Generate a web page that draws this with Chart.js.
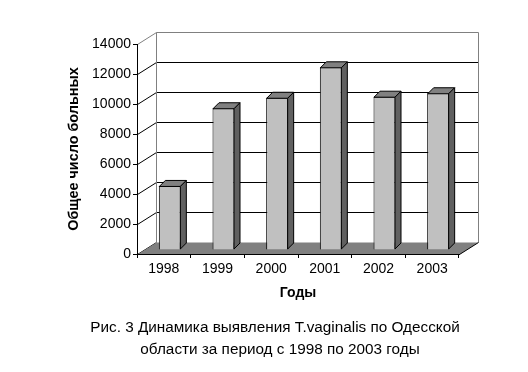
<!DOCTYPE html>
<html>
<head>
<meta charset="utf-8">
<script src="https://cdn.jsdelivr.net/npm/chart.js@4.4.0/dist/chart.umd.min.js"></script>
<style>
    html, body { margin: 0; padding: 0; background: #fff; overflow: hidden; }
    #wrap { position: relative; width: 528px; height: 372px; }
    .caption {
        position: absolute;
        white-space: nowrap;
        font: 15.3px Arial, "Liberation Sans", sans-serif;
        line-height: 22px;
        transform: translateX(-50%);
        color: #000;
    }
</style>
</head>
<body>
<div id="wrap">
    <canvas id="chart" width="528" height="372"></canvas>
    <div class="caption" style="left:275px; top:316px">Рис. 3 Динамика выявления T.vaginalis по Одесской</div>
    <div class="caption" style="left:280px; top:338px">области за период с 1998 по 2003 годы</div>
</div>
<script>
// ===== DATA =====
const years = ['1998', '1999', '2000', '2001', '2002', '2003'];
const patients = [4270, 9450, 10150, 12180, 10220, 10450];
const yMin = 0;
const yMax = 14000;
const yStep = 2000;

// ===== 3D LOOK =====
const DEPTH_X = 19, DEPTH_Y = -12;      // walls / floor depth
const BAR_OFF_X = 6, BAR_OFF_Y = -4;    // bar front face pushed into depth
const BAR_DX = 6, BAR_DY = -6;          // bar own depth

const FONT = 'Arial, "Liberation Sans", sans-serif';
Chart.defaults.font.family = FONT;
Chart.defaults.color = '#000';

function line(ctx, x1, y1, x2, y2, color) {
    ctx.beginPath();
    ctx.strokeStyle = color;
    ctx.moveTo(x1, y1);
    ctx.lineTo(x2, y2);
    ctx.stroke();
}

// back wall, side wall grid and floor
const walls3d = {
    id: 'walls3d',
    beforeDraw(chart) {
        const { ctx, chartArea: a, scales: { y } } = chart;
        const L = Math.round(a.left) + 0.5;
        const R = Math.round(a.right) + 0.5;
        const bottom = Math.round(y.getPixelForValue(yMin)) + 0.5;
        const top = Math.round(y.getPixelForValue(yMax)) + 0.5;
        ctx.save();
        ctx.lineWidth = 1;

        // grid lines: side wall diagonals + back wall horizontals
        y.ticks.forEach(t => {
            const py = Math.round(y.getPixelForValue(t.value)) + 0.5;
            if (t.value === yMax) return;
            line(ctx, L, py, L + DEPTH_X, py + DEPTH_Y, '#000');
            if (t.value !== yMin) line(ctx, L + DEPTH_X, py + DEPTH_Y, R + DEPTH_X, py + DEPTH_Y, '#000');
        });

        // back wall border
        ctx.beginPath();
        ctx.strokeStyle = '#808080';
        ctx.moveTo(L + DEPTH_X, bottom + DEPTH_Y);
        ctx.lineTo(L + DEPTH_X, top + DEPTH_Y);
        ctx.lineTo(R + DEPTH_X, top + DEPTH_Y);
        ctx.lineTo(R + DEPTH_X, bottom + DEPTH_Y);
        ctx.stroke();
        line(ctx, L, top, L + DEPTH_X, top + DEPTH_Y, '#808080');

        // floor
        ctx.beginPath();
        ctx.fillStyle = '#808080';
        ctx.moveTo(L, bottom);
        ctx.lineTo(R, bottom);
        ctx.lineTo(R + DEPTH_X, bottom + DEPTH_Y);
        ctx.lineTo(L + DEPTH_X, bottom + DEPTH_Y);
        ctx.closePath();
        ctx.fill();
        line(ctx, R, bottom, R + DEPTH_X, bottom + DEPTH_Y, '#000');
        ctx.restore();
    },
    beforeDatasetsDraw(chart) {
        chart.ctx.save();
        chart.ctx.translate(BAR_OFF_X, BAR_OFF_Y);
    },
    afterDatasetsDraw(chart) {
        const ctx = chart.ctx;
        ctx.restore();
        ctx.save();
        ctx.lineWidth = 1;
        ctx.strokeStyle = '#000';
        chart.getDatasetMeta(0).data.forEach(bar => {
            const { x, y, base, width } = bar.getProps(['x', 'y', 'base', 'width'], true);
            const l = x - width / 2 + BAR_OFF_X + 0.5;
            const r = x + width / 2 + BAR_OFF_X - 0.5;
            const t = y + BAR_OFF_Y + 0.5;
            const b = base + BAR_OFF_Y - 0.5;
            // top face
            ctx.beginPath();
            ctx.moveTo(l, t);
            ctx.lineTo(l + BAR_DX, t + BAR_DY);
            ctx.lineTo(r + BAR_DX, t + BAR_DY);
            ctx.lineTo(r, t);
            ctx.closePath();
            ctx.fillStyle = '#808080';
            ctx.fill();
            ctx.stroke();
            // side face
            ctx.beginPath();
            ctx.moveTo(r, t);
            ctx.lineTo(r + BAR_DX, t + BAR_DY);
            ctx.lineTo(r + BAR_DX, b + BAR_DY);
            ctx.lineTo(r, b);
            ctx.closePath();
            ctx.fillStyle = '#606060';
            ctx.fill();
            ctx.stroke();
        });
        ctx.restore();
    }
};

new Chart(document.getElementById('chart'), {
    type: 'bar',
    data: {
        labels: years,
        datasets: [{
            data: patients,
            backgroundColor: '#c0c0c0',
            borderColor: '#000',
            borderWidth: 1,
            barPercentage: 0.41,
            categoryPercentage: 1
        }]
    },
    options: {
        responsive: false,
        animation: false,
        devicePixelRatio: 1,
        layout: { padding: { top: 44, right: 69, bottom: 70, left: 0 } },
        plugins: {
            legend: { display: false },
            tooltip: { enabled: false }
        },
        scales: {
            x: {
                afterFit: s => { s.height = 48; },
                grid: { drawOnChartArea: false, drawTicks: true, tickLength: 4, color: '#000' },
                border: { display: true, color: '#000' },
                ticks: { padding: 3, font: { size: 14 }, color: '#000' },
                title: { display: true, text: 'Годы', font: { size: 14, weight: 'bold' }, padding: { top: 0, bottom: 0 }, color: '#000' }
            },
            y: {
                min: yMin,
                max: yMax,
                afterFit: s => { s.width = 137; },
                grid: { drawOnChartArea: false, drawTicks: true, tickLength: 4, color: '#000' },
                border: { display: true, color: '#000' },
                ticks: { stepSize: yStep, padding: 2, font: { size: 14 }, color: '#000', callback: v => String(v) },
                title: { display: true, text: 'Общее число больных', font: { size: 14.4, weight: 'bold' }, padding: { top: 65, bottom: 0 }, color: '#000' }
            }
        }
    },
    plugins: [walls3d]
});
</script>
</body>
</html>
